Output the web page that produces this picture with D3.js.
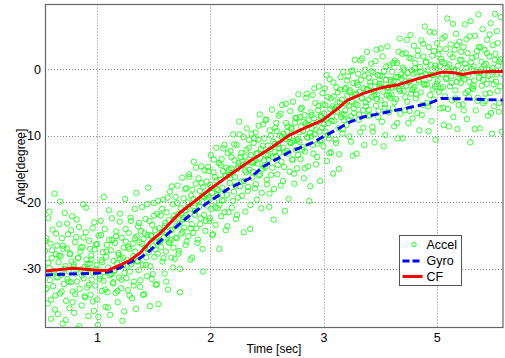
<!DOCTYPE html>
<html>
<head>
<meta charset="utf-8">
<script src="https://cdn.jsdelivr.net/npm/d3@7"></script>
<style>
  body { margin: 0; background: #fff; }
  text { font-family: "Liberation Sans", Arial, sans-serif; }
</style>
</head>
<body>
<svg id="chart" width="505" height="358"></svg>
<script>
const WIDTH = 505;
const HEIGHT = 358;
const MARGIN = { top: 4.5, right: 2, bottom: 30.5, left: 45 };

// x tick positions and the labels printed under them (the last one reads "5")
const xTicks = [1, 2, 3, 4];
const xTickLabels = ["1", "2", "3", "5"];
const yTicks = [-30, -20, -10, 0];
const xDomain = [0.54, 4.585];
const yDomain = [-38.8, 9.7];

const seriesNames = ["Accel", "Gyro", "CF"];

// Gyro angle (blue dashed)
const gyroTime = [0.54, 1.0, 1.12, 1.2, 1.29, 1.38, 1.47, 1.64, 1.82, 2.0, 2.17, 2.35, 2.46, 2.7, 2.91, 2.99, 3.14, 3.23, 3.35, 3.65, 3.94, 4.04, 4.29, 4.585];
const gyroAngle = [-30.9, -30.65, -30.4, -29.85, -29.0, -28.4, -27.2, -24.5, -21.95, -19.8, -17.85, -16.4, -14.7, -12.45, -11.0, -10.2, -8.85, -7.95, -7.2, -6.15, -5.1, -4.4, -4.5, -4.65];

// Complementary filter angle (red)
const cfTime = [0.54, 0.79, 1.0, 1.09, 1.2, 1.29, 1.38, 1.47, 1.56, 1.73, 1.91, 2.0, 2.17, 2.35, 2.55, 2.7, 2.85, 2.99, 3.14, 3.21, 3.35, 3.52, 3.65, 3.79, 3.94, 4.05, 4.14, 4.23, 4.32, 4.47, 4.585];
const cfAngle = [-30.3, -29.9, -30.2, -30.25, -29.45, -28.7, -27.6, -25.9, -24.6, -21.6, -19.2, -18.0, -15.9, -13.8, -11.7, -9.9, -8.7, -7.7, -5.7, -4.7, -3.65, -2.75, -2.4, -1.65, -0.95, -0.45, -0.5, -0.8, -0.5, -0.35, -0.35];

// Accelerometer angle samples, taken every accelStep seconds from accelStart
const accelStart = 0.54;
const accelStep = 0.006;
const accelAngle = [
  -27.3,-33.1,-25.4,-30.8,-35.2,-22.4,-29.9,-31.7,-26.2,-37.5,-28.4,-24.1,-32.6,-30.3,-18.7,-34.0,-27.8,
  -31.2,-26.5,-36.8,-29.0,-23.3,-33.7,-28.1,-30.9,-25.4,-38.2,-27.0,-32.3,-21.6,-29.6,-34.8,-26.9,-31.5,
  -24.8,-30.4,-35.9,-27.7,-32.0,-28.9,-22.1,-33.4,-29.3,-36.6,-26.0,-30.7,-25.2,-31.9,-39.0,-28.3,-23.7,
  -33.0,-27.4,-30.1,-35.5,-26.7,-20.3,-31.4,-29.7,-34.3,-24.5,-28.6,-32.8,-30.0,-37.1,-25.8,-29.2,-33.9,
  -28.0,-31.6,-23.9,-30.6,-36.3,-27.1,-32.5,-26.3,-29.4,-34.6,-38.4,-25.0,-30.2,-31.1,-22.8,-28.7,-33.3,
  -27.5,-31.8,-30.5,-24.0,-35.7,-28.2,-26.4,-33.5,-29.8,-21.2,-31.0,-36.9,-27.2,-30.8,-25.7,-32.2,-28.8,
  -30.3,-26.1,-33.6,-24.4,-29.1,-35.0,-27.6,-31.3,-22.9,-28.5,-32.9,-25.3,-37.8,-29.5,-26.8,-30.6,-19.5,
  -25.9,-31.4,-28.7,-33.2,-24.6,-27.0,-30.4,-22.3,-29.3,-34.4,-26.2,-28.1,-31.9,-21.0,-27.4,-36.0,-25.1,
  -28.8,-23.6,-30.2,-26.0,-32.7,-24.3,-27.9,-20.7,-29.4,-25.5,-33.8,-26.9,-22.5,-28.3,-31.1,-24.9,-17.8,
  -27.1,-22.8,-29.6,-25.0,-31.5,-23.4,-26.6,-20.1,-28.2,-24.2,-32.4,-26.0,-21.7,-27.7,-35.3,-23.9,-25.8,
  -22.0,-26.7,-24.4,-28.9,-19.6,-25.3,-30.7,-23.1,-27.4,-21.5,-24.9,-33.1,-22.7,-26.1,-18.4,-25.7,-28.3,
  -24.1,-20.3,-26.8,-22.0,-28.5,-19.2,-23.6,-25.4,-17.5,-21.8,-27.3,-23.2,-30.0,-20.9,-24.7,-16.3,-22.6,
  -19.4,-23.8,-21.2,-26.4,-17.9,-22.5,-20.0,-25.1,-15.8,-21.7,-28.6,-19.0,-23.3,-18.1,-24.6,-13.9,-20.8,
  -21.3,-17.2,-23.9,-19.8,-25.6,-16.4,-20.6,-18.3,-22.4,-14.6,-19.1,-27.0,-17.7,-21.9,-15.2,-24.3,-18.8,
  -16.9,-20.5,-14.7,-19.3,-22.8,-17.4,-12.9,-21.0,-18.6,-24.8,-15.5,-19.9,-16.2,-23.4,-11.8,-18.0,-20.9,
  -18.2,-14.1,-20.4,-16.6,-22.1,-13.5,-17.8,-15.3,-19.7,-11.4,-16.0,-24.2,-14.8,-18.9,-12.6,-21.5,-15.9,
  -17.1,-12.3,-14.9,-20.8,-15.6,-9.8,-18.4,-13.7,-16.2,-22.5,-11.4,-15.0,-19.3,-14.1,-7.9,-17.6,-13.2,
  -12.6,-19.0,-14.4,-10.2,-16.8,-13.1,-21.4,-15.5,-8.9,-14.0,-17.7,-11.8,-15.1,-24.0,-12.9,-9.7,-16.3,
  -15.4,-11.1,-13.8,-17.9,-9.5,-12.7,-19.6,-14.2,-10.6,-16.0,-6.8,-13.4,-12.0,-18.6,-15.0,-8.3,-14.6,
  -10.4,-14.8,-12.9,-7.6,-17.3,-11.5,-13.6,-20.7,-9.2,-12.0,-15.9,-6.1,-13.2,-10.9,-18.0,-12.4,-8.8,
  -13.1,-9.3,-15.8,-11.2,-7.0,-12.6,-10.0,-17.5,-13.9,-5.4,-11.8,-9.7,-14.7,-21.3,-10.5,-8.1,-12.3,
  -8.6,-12.7,-10.2,-15.4,-6.3,-11.1,-9.0,-13.6,-4.9,-10.8,-17.2,-8.0,-12.1,-7.4,-14.9,-10.5,-3.8,
  -10.9,-7.2,-13.5,-8.6,-5.8,-11.7,-9.3,-16.4,-6.9,-12.4,-8.1,-3.7,-10.2,-14.6,-7.7,-19.8,-9.6,
  -6.5,-10.1,-8.9,-3.9,-12.7,-7.4,-9.8,-5.1,-14.3,-8.0,-11.2,-6.2,-2.6,-9.4,-16.8,-7.0,-10.7,
  -8.8,-5.3,-11.6,-6.7,-2.9,-9.4,-7.5,-13.8,-4.2,-8.1,-10.4,-1.5,-6.0,-12.5,-7.8,-5.6,-15.7,
  -4.1,-7.8,-5.9,-10.6,-2.7,-6.4,-3.5,-8.9,-12.8,-5.0,-1.2,-7.2,-4.6,-9.7,-0.4,-6.8,-3.0,
  -6.2,-2.8,-8.4,-4.0,-1.1,-5.5,-10.1,-3.2,-7.1,-0.3,-4.9,-13.0,-2.1,-6.6,1.4,-5.2,-3.7,
  -2.0,-5.4,-0.7,-7.6,-3.4,-9.5,-1.6,-4.4,1.6,-6.2,-2.9,-11.4,-0.1,-5.0,-3.1,2.6,-7.0,
  -4.6,-1.3,-6.9,-2.5,0.8,-4.2,-8.7,-0.5,-3.3,-11.0,-1.9,-5.5,2.9,-3.8,-0.9,-6.3,-2.2,
  -1.0,-4.7,-2.2,-7.9,1.9,-3.4,-0.3,-5.8,-9.9,-1.6,-3.9,3.4,-2.7,-6.5,0.6,-4.3,-1.9,
  -3.8,-0.4,-5.9,-1.8,-8.6,1.3,-2.6,-4.5,0.9,-10.4,-1.2,-3.0,4.6,-6.7,-0.8,-2.3,2.3,
  0.2,-3.3,-1.1,-6.2,2.4,-2.5,-4.9,-0.6,-8.1,1.7,-1.8,5.1,-3.7,-0.2,-7.4,-2.9,3.5,
  -2.7,0.9,-4.4,-0.5,-6.6,2.8,-1.6,-9.2,0.3,-3.5,4.3,-1.0,-5.4,1.9,-2.2,6.4,-0.7,
  1.1,-2.3,-0.2,-5.6,3.3,-1.4,-3.9,0.6,-7.8,2.0,-0.9,-4.6,5.5,-2.6,-10.6,0.1,3.9,
  -1.8,2.2,-3.4,0.4,-5.9,1.5,-0.8,4.6,-2.7,-8.4,0.9,-4.1,3.0,-1.3,7.6,-6.0,-0.2,
  0.7,-2.6,3.7,-1.1,-4.7,1.8,-7.2,-0.3,2.9,-3.2,5.3,-1.9,-9.0,0.5,-5.4,4.1,-0.8,
  -2.1,1.3,-0.6,-5.3,3.3,-1.5,6.7,-3.6,0.2,-7.5,2.4,-0.9,-4.2,4.9,-11.0,1.0,-2.8,
  1.7,-3.0,0.4,-1.7,5.0,-6.2,-0.5,2.7,-4.3,8.2,-1.3,-8.9,3.3,0.0,-2.5,6.0,-5.1,
  -0.9,2.9,-4.8,0.8,-2.2,4.4,-7.0,-0.1,1.9,-3.6,6.9,-1.5,-9.7,3.6,-0.4,-5.6,1.4,
  2.3,-1.9,5.7,-3.3,0.5,-6.4,1.1,-2.6,7.8,-0.7
];

// second accelerometer channel read (interleaved samples)
const accel2Start = 0.543;
const accel2Step = 0.012;
const accel2Angle = [
  -25.8,-32.9,-29.1,-21.4,-34.6,-27.2,-30.5,-36.1,-24.7,-31.3,-28.0,-19.9,-33.4,-26.5,-30.0,-37.7,-23.2,
  -31.9,-27.8,-24.2,-35.0,-29.7,-33.8,-22.6,-28.4,-38.6,-26.8,-31.0,-25.3,-34.1,-20.8,-29.3,-32.4,-27.0,
  -28.6,-34.9,-23.0,-30.1,-26.3,-37.2,-31.5,-24.9,-29.0,-19.2,-33.1,-27.4,-35.8,-25.6,-30.7,-22.4,-32.0,
  -30.2,-25.1,-33.3,-27.9,-21.7,-31.6,-28.3,-36.4,-24.0,-29.5,-26.7,-34.0,-22.8,-28.9,-32.5,-25.4,-18.6,
  -28.9,-23.1,-31.7,-26.2,-33.9,-24.6,-29.4,-20.3,-27.5,-35.6,-25.0,-30.8,-22.0,-27.1,-32.3,-19.8,-25.9,
  -25.7,-21.0,-28.4,-23.6,-31.9,-19.3,-26.0,-24.2,-17.6,-29.8,-22.5,-25.3,-20.1,-27.7,-33.5,-21.7,-24.4,
  -22.3,-18.0,-25.9,-20.7,-16.2,-23.9,-28.3,-19.5,-21.9,-14.8,-26.1,-20.0,-23.3,-17.1,-30.4,-19.2,-22.8,
  -19.6,-15.3,-22.4,-17.8,-24.9,-13.6,-20.8,-16.7,-18.9,-27.0,-14.4,-19.7,-11.9,-21.5,-16.0,-23.6,-15.1,
  -16.4,-13.2,-19.8,-11.3,-17.5,-21.9,-14.6,-9.8,-16.9,-13.9,-24.5,-15.2,-12.1,-18.3,-10.6,-20.4,-14.0,
  -14.1,-10.4,-17.3,-12.6,-8.5,-15.8,-20.9,-11.5,-13.7,-7.6,-16.6,-12.9,-18.7,-10.0,-14.8,-22.6,-11.2,
  -8.1,-14.4,-11.9,-6.7,-10.2,-16.8,-12.5,-5.2,-9.4,-19.5,-11.0,-8.8,-13.6,-15.7,-7.3,-10.7,-12.9,
  -9.5,-6.0,-12.1,-7.9,-14.9,-4.3,-10.3,-8.4,-17.6,-6.9,-11.4,-2.9,-9.1,-13.2,-5.5,-10.8,-7.2,
  -3.6,-8.3,-5.4,-0.9,-9.9,-12.6,-4.4,-7.1,-2.0,-6.1,-11.1,-5.0,-15.0,-3.1,-6.8,-9.0,-7.7,
  -5.2,-1.7,-7.6,-3.5,-10.9,-0.2,-5.9,-3.9,-12.7,-2.4,-6.8,1.3,-4.3,-8.8,-1.0,-5.6,-3.0,
  -6.1,-2.0,-0.3,-9.4,-3.9,1.2,-4.5,-7.2,-2.6,3.1,-1.1,-11.6,-5.3,0.4,-2.9,-4.0,-1.6,
  -2.8,0.9,-5.0,-1.2,-8.1,2.6,-3.3,-1.5,-10.4,-0.1,-4.2,4.4,-2.0,-6.3,1.6,-3.1,-0.7,
  0.1,-3.8,2.0,-1.9,-0.4,-6.9,3.8,-2.4,1.0,-5.1,-9.3,5.6,-0.9,-3.0,2.7,0.5,-2.2,
  -0.8,3.0,-2.9,1.1,-5.8,4.9,-1.5,0.3,-8.6,2.2,-2.1,6.8,-0.1,-4.4,3.6,-1.3,1.4,
  2.6,-1.1,-6.2,0.8,4.5,-3.3,-1.9,7.2,0.0,-2.5,-9.0,1.9,-4.8,3.3,-0.4,1.1,-1.6,
  0.6,-3.7,2.4,-1.0,5.2,-6.6,0.2,-2.3,8.3,-0.8,3.9,-5.1,1.5,-9.4
];

const svg = d3.select("#chart");
svg.append("rect").attr("width", WIDTH).attr("height", HEIGHT).attr("fill", "#fff");

const innerW = WIDTH - MARGIN.left - MARGIN.right;
const innerH = HEIGHT - MARGIN.top - MARGIN.bottom;

const xScale = d3.scaleLinear().domain(xDomain).range([MARGIN.left, MARGIN.left + innerW]);
const yScale = d3.scaleLinear().domain(yDomain).range([MARGIN.top + innerH, MARGIN.top]);

svg.append("clipPath").attr("id", "plot-clip")
  .append("rect")
  .attr("x", MARGIN.left).attr("y", MARGIN.top)
  .attr("width", innerW).attr("height", innerH);

// dotted grid
const grid = svg.append("g").attr("class", "grid")
  .attr("stroke", "#8a8a8a").attr("stroke-width", 1).attr("stroke-dasharray", "1,2");
grid.selectAll(".gx").data(xTicks).enter().append("line")
  .attr("x1", (d) => Math.round(xScale(d)) + 0.5).attr("x2", (d) => Math.round(xScale(d)) + 0.5)
  .attr("y1", MARGIN.top).attr("y2", MARGIN.top + innerH);
grid.selectAll(".gy").data(yTicks).enter().append("line")
  .attr("y1", (d) => Math.round(yScale(d)) + 0.5).attr("y2", (d) => Math.round(yScale(d)) + 0.5)
  .attr("x1", MARGIN.left).attr("x2", MARGIN.left + innerW);

const plot = svg.append("g").attr("clip-path", "url(#plot-clip)");

// accelerometer scatter (both sample sets)
const accel = accelAngle.map((a, i) => [accelStart + i * accelStep, a])
  .concat(accel2Angle.map((a, i) => [accel2Start + i * accel2Step, a]));
plot.selectAll("circle.accel").data(accel).enter().append("circle")
  .attr("class", "accel")
  .attr("cx", (d) => xScale(d[0]))
  .attr("cy", (d) => yScale(d[1]))
  .attr("r", 2.7)
  .attr("fill", "none")
  .attr("stroke", "#11ff11")
  .attr("stroke-width", 0.85);

const line = d3.line().x((d) => xScale(d[0])).y((d) => yScale(d[1]));

plot.append("path")
  .datum(gyroTime.map((t, i) => [t, gyroAngle[i]]))
  .attr("d", line)
  .attr("fill", "none")
  .attr("stroke", "#0000ff")
  .attr("stroke-width", 3)
  .attr("stroke-dasharray", "8,4");

plot.append("path")
  .datum(cfTime.map((t, i) => [t, cfAngle[i]]))
  .attr("d", line)
  .attr("fill", "none")
  .attr("stroke", "#ff0000")
  .attr("stroke-width", 3);

// axes
const xAxis = d3.axisBottom(xScale)
  .tickValues(xTicks)
  .tickFormat((d, i) => xTickLabels[i])
  .tickSize(0)
  .tickPadding(6);
const yAxis = d3.axisLeft(yScale)
  .tickValues(yTicks)
  .tickFormat((d) => d)
  .tickSize(0)
  .tickPadding(4);

const gx = svg.append("g")
  .attr("transform", `translate(0, ${MARGIN.top + innerH})`)
  .call(xAxis);
const gy = svg.append("g")
  .attr("transform", `translate(${MARGIN.left}, 0)`)
  .call(yAxis);
[gx, gy].forEach((g) => {
  g.select(".domain").remove();
  g.selectAll("text").attr("font-size", 12.5).attr("fill", "#000")
    .attr("font-family", "'Liberation Sans', Arial, sans-serif");
});

// axes box
svg.append("rect")
  .attr("x", MARGIN.left + 0.5).attr("y", MARGIN.top)
  .attr("width", innerW - 0.5).attr("height", innerH)
  .attr("fill", "none").attr("stroke", "#666").attr("stroke-width", 1.2);

svg.append("text")
  .attr("x", MARGIN.left + innerW / 2)
  .attr("y", 353)
  .attr("text-anchor", "middle")
  .attr("font-size", 12)
  .text("Time [sec]");

svg.append("text")
  .attr("transform", `translate(25, ${MARGIN.top + innerH / 2}) rotate(-90)`)
  .attr("text-anchor", "middle")
  .attr("font-size", 12)
  .text("Angle[degree]");

// legend
const legend = svg.append("g").attr("transform", "translate(399.5, 235.5)");
legend.append("rect")
  .attr("width", 62).attr("height", 50)
  .attr("fill", "#fff").attr("stroke", "#555").attr("stroke-width", 1);
const rows = legend.selectAll("g.row").data(seriesNames).enter().append("g")
  .attr("transform", (d, i) => `translate(0, ${9 + i * 16})`);
rows.append("text")
  .attr("x", 27).attr("y", 0).attr("dy", "0.36em")
  .attr("font-size", 12.5)
  .text((d) => d);
rows.filter((d) => d === "Accel").append("circle")
  .attr("cx", 14.5).attr("cy", 0).attr("r", 2.2)
  .attr("fill", "none").attr("stroke", "#11ff11").attr("stroke-width", 0.9);
rows.filter((d) => d === "Gyro").append("line")
  .attr("x1", 3).attr("x2", 23).attr("y1", 0.5).attr("y2", 0.5)
  .attr("stroke", "#0000ff").attr("stroke-width", 3).attr("stroke-dasharray", "7,3");
rows.filter((d) => d === "CF").append("line")
  .attr("x1", 3).attr("x2", 23).attr("y1", 0).attr("y2", 0)
  .attr("stroke", "#ff0000").attr("stroke-width", 3);
</script>
</body>
</html>
